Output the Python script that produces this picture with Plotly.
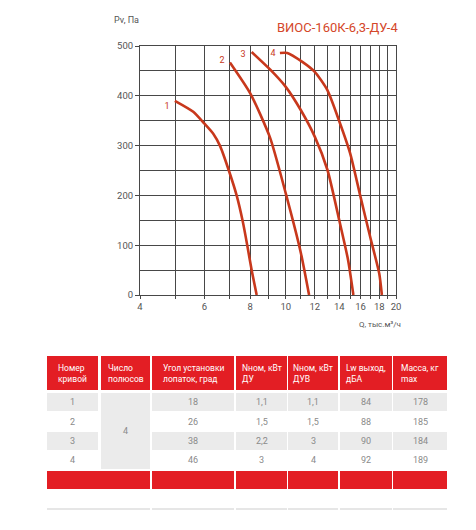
import math
import plotly.graph_objects as go

W, H = 476, 530

# ---------------- data ----------------
curve_names = ["1", "2", "3", "4"]
q1 = [4.98, 5.59, 6.0, 6.34, 6.62, 7.0, 7.35, 7.63, 7.85, 8.07, 8.33]
p1 = [390, 368, 344, 324, 299, 249, 199, 148, 100, 50, 0]
q2 = [7.04, 8.0, 9.06, 10.0, 11.0, 11.58]
p2 = [467, 405, 316, 204, 84, 0]
q3 = [8.07, 9.06, 10.0, 11.0, 12.0, 13.0, 14.0, 14.8, 15.3]
p3 = [488, 453, 418, 371, 318, 251, 150, 70, 0]
q4 = [9.64, 10.1, 11.1, 12.0, 13.0, 14.0, 15.0, 16.0, 17.0, 18.0, 18.3]
p4 = [486, 486, 468, 448, 411, 349, 284, 197, 117, 43, 0]
label_q = [4.74, 6.70, 7.64, 9.23]
label_p = [379, 471, 483, 485]

x_tickvals = [4, 5, 6, 7, 8, 9, 10, 11, 12, 13, 14, 15, 16, 17, 18, 19, 20]
x_ticktext = ["4", "", "6", "", "8", "", "10", "", "12", "", "14", "", "16", "", "18", "", "20"]
y_tickvals = [0, 100, 200, 300, 400, 500]
y_ticktext = ["0", "100", "200", "300", "400", "500"]

title_text = "ВИОС-160К-6,3-ДУ-4"
y_title = "Pv, Па"
x_title = "Q, тыс.м³/ч"

headers = ["Номер<br>кривой", "Число<br>полюсов", "Угол установки<br>лопаток, град",
           "Nном, кВт<br>ДУ", "Nном, кВт<br>ДУВ", "Lw выход,<br>дБА", "Масса, кг<br>max"]
col_curve = ["1", "2", "3", "4"]
col_poles = "4"
col_angle = ["18", "26", "38", "46"]
col_n_du = ["1,1", "1,5", "2,2", "3"]
col_n_duv = ["1,1", "1,5", "3", "4"]
col_lw = ["84", "88", "90", "92"]
col_mass = ["178", "185", "184", "189"]

# ---------------- styles / layout ----------------
CURVE = "#c8381c"
RED = "#e31e24"
GREY_CELL = "#ebebeb"
GRID = "#474747"
TXT = "#555555"
FONT = "Roboto"

# plot area in pixels
PL, PR, PT, PB = 140, 396, 46, 295

def px(x):
    return x / W

def py(y):
    return 1 - y / H

fig = go.Figure()
for name, q, p in zip(curve_names, [q1, q2, q3, q4], [p1, p2, p3, p4]):
    fig.add_trace(go.Scatter(x=q, y=p, mode="lines", name=name,
                             line=dict(color=CURVE, width=2.6, shape="spline", smoothing=0.6),
                             hoverinfo="skip", showlegend=False))
fig.add_trace(go.Scatter(x=label_q, y=label_p, mode="text", text=curve_names,
                         textfont=dict(family=FONT, size=9, color=CURVE),
                         showlegend=False, hoverinfo="skip"))

fig.update_layout(
    width=W, height=H, autosize=False,
    margin=dict(l=0, r=0, t=0, b=0, autoexpand=False),
    paper_bgcolor="white", plot_bgcolor="white",
    font=dict(family=FONT, size=9, color=TXT),
    xaxis=dict(type="log", domain=[px(PL), px(PR)],
               range=[math.log10(4), math.log10(20)],
               tickvals=x_tickvals, ticktext=x_ticktext,
               showgrid=True, gridcolor=GRID, gridwidth=1,
               showline=True, mirror=True, linecolor=GRID, linewidth=1,
               ticks="outside", ticklen=3, tickcolor=GRID,
               tickfont=dict(family=FONT, size=9.5, color=TXT),
               zeroline=False, fixedrange=True, automargin=False),
    yaxis=dict(domain=[py(PB), py(PT)], range=[0, 500],
               tickvals=y_tickvals, ticktext=y_ticktext,
               showgrid=True, gridcolor=GRID, gridwidth=1,
               showline=True, mirror=True, linecolor=GRID, linewidth=1,
               ticks="outside", ticklen=4, tickcolor=GRID,
               tickfont=dict(family=FONT, size=9.5, color=TXT),
               minor=dict(dtick=50, showgrid=True, gridcolor=GRID, gridwidth=1, ticks=""),
               zeroline=False, fixedrange=True, automargin=False),
)

def note(text, x, y, xanchor="center", size=9, color=TXT, align="center"):
    return dict(text=text, x=px(x), y=py(y), xref="paper", yref="paper",
                xanchor=xanchor, yanchor="middle", align=align, showarrow=False,
                font=dict(family=FONT, size=size, color=color))

annotations = [
    note(title_text, 400, 28, xanchor="right", size=13, color="#d4472a"),
    note(y_title, 112, 20, xanchor="left", size=9),
    note(x_title, 403, 324, xanchor="right", size=8),
]
shapes = []

# ---------------- table ----------------
cols = [(47, 98), (101, 150), (152, 234), (236, 287), (288, 338), (340, 392), (393, 447)]
HDR = (356, 390)
rows = [(393, 411), (412, 431), (432, 450), (451, 469)]
FOOT = (471, 489)
LINE_Y = 509

def rect(x0, y0, x1, y1, color):
    shapes.append(dict(type="rect", xref="paper", yref="paper",
                       x0=px(x0), x1=px(x1), y0=py(y1), y1=py(y0),
                       fillcolor=color, line=dict(width=0), layer="below"))

for (x0, x1), h in zip(cols, headers):
    rect(x0, HDR[0], x1, HDR[1], RED)
    annotations.append(note(h, (x0 + x1) / 2, (HDR[0] + HDR[1]) / 2, size=8.5,
                            color="white", align="left"))

data_cols = [col_curve, None, col_angle, col_n_du, col_n_duv, col_lw, col_mass]
for ri, (y0, y1) in enumerate(rows):
    for ci, (x0, x1) in enumerate(cols):
        if ci == 1:
            continue
        if ri % 2 == 0:
            rect(x0, y0, x1, y1, GREY_CELL)
        annotations.append(note(data_cols[ci][ri], (x0 + x1) / 2, (y0 + y1) / 2,
                                size=9, color="#8a8a8a"))
# merged poles cell
rect(cols[1][0], rows[0][0], cols[1][1], rows[-1][1], GREY_CELL)
annotations.append(note(col_poles, (cols[1][0] + cols[1][1]) / 2,
                        (rows[0][0] + rows[-1][1]) / 2, size=9, color="#8a8a8a"))

# footer
foot_segments = [(cols[0][0], cols[1][1])] + cols[2:]
for x0, x1 in foot_segments:
    rect(x0, FOOT[0], x1, FOOT[1], RED)
    rect(x0, LINE_Y - 1, x1, LINE_Y + 1, "#e6e6e6")

fig.update_layout(annotations=annotations, shapes=shapes)
fig.write_html("out.html", config={"displayModeBar": False},
               post_script="document.body.style.margin='0';document.body.style.padding='0';")
